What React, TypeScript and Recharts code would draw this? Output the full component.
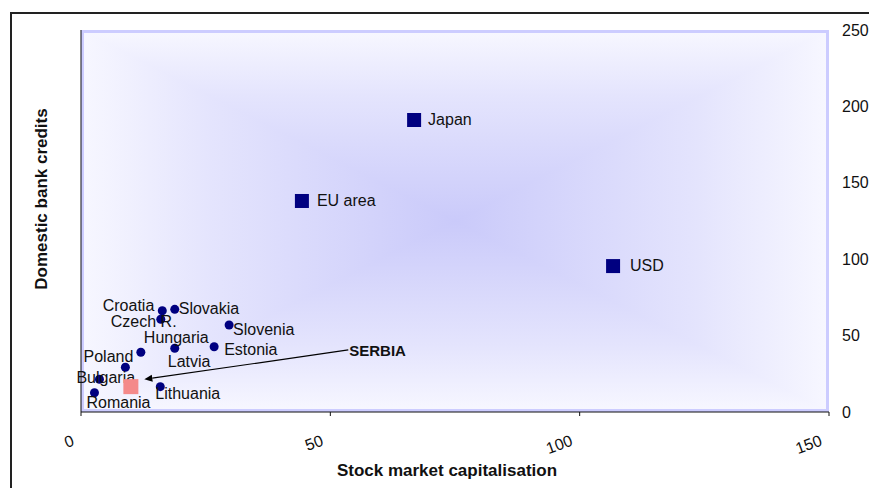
import {
  ScatterChart,
  Scatter,
  XAxis,
  YAxis,
  ReferenceArea,
  ReferenceLine,
  ReferenceDot,
} from 'recharts';

// transition countries
const countryNames = ['Croatia', 'Slovakia', 'Czech R.', 'Slovenia', 'Estonia', 'Latvia', 'Hungaria', 'Poland', 'Bulgaria', 'Romania', 'Lithuania'];
const countryCap = [16.3, 18.8, 16.0, 29.7, 26.7, 18.8, 12.0, 8.9, 3.7, 2.7, 15.9];
const countryCredit = [66.3, 67.2, 60.7, 56.9, 42.7, 41.7, 39.1, 29.3, 21.4, 12.6, 16.6];

// developed economies
const benchNames = ['Japan', 'EU area', 'USD'];
const benchCap = [66.8, 44.3, 106.7];
const benchCredit = [191.1, 138.1, 95.5];

const serbiaCap = [10.0];
const serbiaCredit = [16.6];

// SERBIA annotation: text position and arrow target
const serbiaNote = { x: 53.6, y: 40.6 };
const serbiaArrowEnd = { x: 12.7, y: 21.4 };

const xTicks = [0, 50, 100, 150];
const yTicks = [0, 50, 100, 150, 200, 250];

const FONT = '"Liberation Sans", Arial, sans-serif';
const NAVY = '#000080';

// label placement relative to the marker (dx, dy, anchor)
const labelPos: Record<string, [number, number, 'start' | 'end']> = {
  Croatia: [-8, 0, 'end'],
  Slovakia: [4, 5, 'start'],
  'Czech R.': [-50, 8, 'start'],
  Slovenia: [4, 10, 'start'],
  Estonia: [10, 8, 'start'],
  Latvia: [-7, 19, 'start'],
  Hungaria: [3, -9, 'start'],
  Poland: [8, -5, 'end'],
  Bulgaria: [-23, 4, 'start'],
  Romania: [-8, 15, 'start'],
  Lithuania: [-5, 12, 'start'],
  Japan: [14, 5, 'start'],
  'EU area': [15, 5, 'start'],
  USD: [17, 5, 'start'],
};

const countries = countryNames.map((name, i) => ({ name, x: countryCap[i], y: countryCredit[i] }));
const bench = benchNames.map((name, i) => ({ name, x: benchCap[i], y: benchCredit[i] }));
const serbia = serbiaCap.map((x, i) => ({ name: 'Serbia', x, y: serbiaCredit[i] }));

const PointLabel = ({ name, cx, cy }: { name: string; cx: number; cy: number }) => {
  const p = labelPos[name];
  if (!p) return null;
  return (
    <text x={cx + p[0]} y={cy + p[1]} textAnchor={p[2]} fontSize={16} fontFamily={FONT} fill="#111">
      {name}
    </text>
  );
};

const CircleShape = (props: any) => (
  <g>
    <circle cx={props.cx} cy={props.cy} r={4.5} fill={NAVY} />
    <PointLabel name={props.payload.name} cx={props.cx} cy={props.cy} />
  </g>
);

const SquareShape = (props: any) => (
  <g>
    <rect x={props.cx - 7} y={props.cy - 7} width={14} height={14} fill={NAVY} />
    <PointLabel name={props.payload.name} cx={props.cx} cy={props.cy} />
  </g>
);

const SerbiaShape = (props: any) => (
  <rect x={props.cx - 7.5} y={props.cy - 7.5} width={15} height={15} fill="#f48a8a" />
);

// rectangular "from center" gradient like the spreadsheet fill
const PlotBackground = (props: any) => {
  const { x, y, width, height } = props;
  const cx = x + width / 2;
  const cy = y + height / 2;
  const edge = '#f7f7ff';
  const soft = '#e4e4fd';
  const mid = '#cacafa';
  const stops = (
    <>
      <stop offset="0" stopColor={edge} />
      <stop offset="0.35" stopColor={soft} />
      <stop offset="1" stopColor={mid} />
    </>
  );
  return (
    <g>
      <defs>
        <linearGradient id="gTop" gradientUnits="userSpaceOnUse" x1={0} y1={y} x2={0} y2={cy}>{stops}</linearGradient>
        <linearGradient id="gBottom" gradientUnits="userSpaceOnUse" x1={0} y1={y + height} x2={0} y2={cy}>{stops}</linearGradient>
        <linearGradient id="gLeft" gradientUnits="userSpaceOnUse" x1={x} y1={0} x2={cx} y2={0}>{stops}</linearGradient>
        <linearGradient id="gRight" gradientUnits="userSpaceOnUse" x1={x + width} y1={0} x2={cx} y2={0}>{stops}</linearGradient>
      </defs>
      <rect x={x} y={y} width={width} height={height} fill="url(#gTop)" />
      <rect x={x} y={cy} width={width} height={height / 2} fill="url(#gBottom)" />
      <polygon points={`${x},${y} ${x},${y + height} ${cx},${cy}`} fill="url(#gLeft)" />
      <polygon points={`${x + width},${y} ${x + width},${y + height} ${cx},${cy}`} fill="url(#gRight)" />
      <rect x={x + 1.5} y={y + 1.5} width={width - 3} height={height - 3} fill="none" stroke="#ccccff" strokeWidth={3} />
    </g>
  );
};

const ArrowShape = (props: any) => {
  const { x1, y1, x2, y2 } = props;
  const ang = Math.atan2(y2 - y1, x2 - x1);
  const len = 8;
  const w = 3.5;
  const bx = x2 - len * Math.cos(ang);
  const by = y2 - len * Math.sin(ang);
  const px = -Math.sin(ang) * w;
  const py = Math.cos(ang) * w;
  return (
    <g>
      <line x1={x1} y1={y1} x2={bx} y2={by} stroke="#000" strokeWidth={1.2} />
      <polygon points={`${x2},${y2} ${bx + px},${by + py} ${bx - px},${by - py}`} fill="#000" />
    </g>
  );
};

const XTick = (props: any) => {
  const { x, y, payload } = props;
  const tx = x - 6;
  const ty = y + 27;
  return (
    <text x={tx} y={ty} textAnchor="end" fontSize={16} fontFamily={FONT} fill="#111" transform={`rotate(-20, ${tx}, ${ty})`}>
      {payload.value}
    </text>
  );
};

const XTitle = (props: any) => {
  const vb = props.viewBox;
  const tx = vb.x + vb.width / 2 - 8;
  const ty = vb.y + vb.height - 12;
  return (
    <text x={tx} y={ty} textAnchor="middle" fontSize={17} fontWeight="bold" fontFamily={FONT} fill="#111">
      Stock market capitalisation
    </text>
  );
};

const YTitle = (props: any) => {
  const vb = props.viewBox;
  const tx = vb.x + 47;
  const ty = vb.y + vb.height / 2 - 22;
  return (
    <text x={tx} y={ty} textAnchor="middle" fontSize={17} fontWeight="bold" fontFamily={FONT} fill="#111" transform={`rotate(-90, ${tx}, ${ty})`}>
      Domestic bank credits
    </text>
  );
};

export default function App() {
  return (
    <div style={{ position: 'absolute', left: 0, top: 0, width: 869, height: 488, overflow: 'hidden', background: '#fff' }}>
      <div style={{ position: 'absolute', left: 10, top: 12, width: 900, height: 600, border: '2px solid #222' }} />
      <div style={{ position: 'absolute', left: 0, top: 0 }}>
        <ScatterChart width={869} height={488} margin={{ top: 30, right: 0, bottom: 0, left: 0 }}>
          <XAxis
            type="number"
            dataKey="x"
            domain={[0, 150]}
            ticks={xTicks}
            interval={0}
            height={76}
            stroke="#111"
            tickSize={4}
            tick={<XTick />}
            label={<XTitle />}
          />
          <YAxis
            yAxisId="left"
            orientation="left"
            type="number"
            domain={[0, 250]}
            width={81}
            tick={false}
            tickLine={false}
            stroke="#111"
            label={<YTitle />}
          />
          <YAxis
            yAxisId="right"
            orientation="right"
            type="number"
            dataKey="y"
            domain={[0, 250]}
            ticks={yTicks}
            interval={0}
            width={40}
            axisLine={false}
            tickLine={false}
            tickMargin={7}
            tick={{ fontSize: 16, fontFamily: FONT, fill: '#111' }}
          />
          <ReferenceArea yAxisId="right" x1={0} x2={150} y1={0} y2={250} shape={<PlotBackground />} />
          <Scatter yAxisId="right" data={countries} shape={<CircleShape />} isAnimationActive={false} />
          <Scatter yAxisId="right" data={bench} shape={<SquareShape />} isAnimationActive={false} />
          <Scatter yAxisId="right" data={serbia} shape={<SerbiaShape />} isAnimationActive={false} />
          <ReferenceLine
            yAxisId="right"
            segment={[serbiaNote, serbiaArrowEnd]}
            shape={<ArrowShape />}
          />
          <ReferenceDot
            yAxisId="right"
            x={serbiaNote.x}
            y={serbiaNote.y}
            shape={(p: any) => (
              <text x={p.cx + 1} y={p.cy + 6} fontSize={15} fontWeight="bold" fontFamily={FONT} fill="#111">
                SERBIA
              </text>
            )}
          />
        </ScatterChart>
      </div>
    </div>
  );
}
